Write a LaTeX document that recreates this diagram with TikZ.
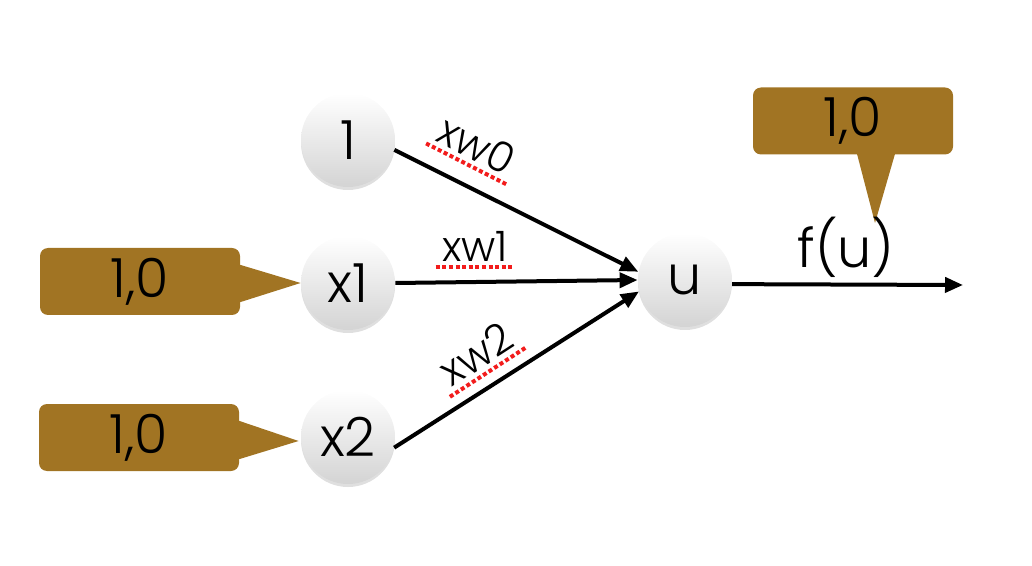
\documentclass[tikz,border=0pt]{standalone}
\usepackage{fontspec}
\setmainfont{Poppins Light}
\usepackage{tikz}
\usetikzlibrary{arrows.meta,positioning,shadows,calc}
\usepackage{xcolor}
\definecolor{calloutbrown}{HTML}{A17423}
\definecolor{spellred}{HTML}{F21C1C}

\tikzset{
  unit/.style={circle,minimum size=47pt,inner sep=0pt,
    top color=white,bottom color=black!17,
    drop shadow={opacity=0.25,shadow xshift=0pt,shadow yshift=-1.5pt},
    font=\fontsize{27}{32}\selectfont},
  callout/.style={fill=calloutbrown,rounded corners=4pt,
    minimum width=100pt,minimum height=33.5pt,
    font=\fontsize{27}{32}\selectfont},
  wire/.style={-{Triangle[length=9pt,width=7.5pt]},line width=2pt},
  weight/.style={font=\fontsize{21}{25}\selectfont,inner sep=3pt},
  squiggle/.style={spellred,line width=2pt,dash pattern=on 2pt off 1.3pt}
}

\begin{document}
\begin{tikzpicture}[x=0.5pt,y=-0.5pt]
    \useasboundingbox (0,0) rectangle (1032,566);
    % neurons
    \node[unit] (one) at (348,140) {1};
    \node[unit] (xa) at (348,283) {x1};
    \node[unit] (xb) at (348,437) {x2};
    \node[unit] (u) at (685,280) {u};
    % input / output values
    \node[callout] (valA) at (140,281.5) {1,0};
    \node[callout] (valB) at (139,437.5) {1,0};
    \node[callout] (valOut) at (853,121) {1,0};
    \coordinate (tipOut) at (875,223);
    \coordinate (out) at (963,285);
    \fill[calloutbrown] ($(valA.north east)+(-1,17)$) -- (xa.west)
      -- ($(valA.south east)+(-1,-13)$) -- cycle;
    \fill[calloutbrown] ($(valB.north east)+(-1,17)$) -- ($(xb.west)+(-2,4)$)
      -- ($(valB.south east)+(-1,-12)$) -- cycle;
    \fill[calloutbrown] ($(valOut.south)+(4,-1)$) -- (tipOut)
      -- ($(valOut.south)+(42,-1)$) -- cycle;
    % weighted connections
    \draw[wire] (one.-12) -- (u.170);
    \draw[wire] (xa.east) -- (u.west);
    \draw[wire] (xb.-13) -- (u.194);
    \draw[wire] (u.-5) -- (out);
    \node[weight,rotate=-27] (wa) at (477,145) {xw0};
    \node[weight] (wb) at (475,246) {xw1};
    \node[weight,rotate=33] (wc) at (476,354) {xw2};
    \foreach \w in {wa,wb,wc}
      \draw[squiggle] (\w.south west) -- (\w.south east);
    \node[font=\fontsize{27}{32}\selectfont] (fu) at (846,247) {f(u)};
  \end{tikzpicture}
\end{document}
